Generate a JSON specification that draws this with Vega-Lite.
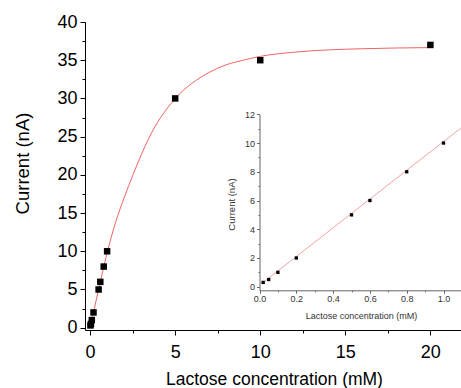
{
  "$schema": "https://vega.github.io/schema/vega-lite/v6.json",
  "width": 376,
  "height": 308,
  "autosize": "none",
  "padding": {"left": 85, "top": 22, "right": 0, "bottom": 58},
  "config": {"view": {"stroke": null}, "font": "Liberation Sans, Arial, sans-serif"},
  "datasets": {
    "main": [
      {"conc": 0.02, "current": 0.3}, {"conc": 0.05, "current": 0.5}, {"conc": 0.1, "current": 1},
      {"conc": 0.2, "current": 2}, {"conc": 0.5, "current": 5}, {"conc": 0.6, "current": 6},
      {"conc": 0.8, "current": 8}, {"conc": 1, "current": 10}, {"conc": 5, "current": 30},
      {"conc": 10, "current": 35}, {"conc": 20, "current": 37}
    ],
    "curve": [
      {"conc": 0, "current": 0}, {"conc": 0.5, "current": 5.0}, {"conc": 1, "current": 9.8},
      {"conc": 1.5, "current": 13.8}, {"conc": 2, "current": 17.0}, {"conc": 2.5, "current": 19.9},
      {"conc": 3, "current": 22.6}, {"conc": 3.5, "current": 25.0}, {"conc": 4, "current": 27.0},
      {"conc": 4.5, "current": 28.6}, {"conc": 5, "current": 30.0}, {"conc": 6, "current": 32.0},
      {"conc": 7, "current": 33.4}, {"conc": 8, "current": 34.4}, {"conc": 9, "current": 35.0},
      {"conc": 10, "current": 35.5}, {"conc": 12, "current": 36.05}, {"conc": 14, "current": 36.35},
      {"conc": 16, "current": 36.5}, {"conc": 18, "current": 36.6}, {"conc": 20, "current": 36.65}
    ],
    "inset": [
      {"c": 0.02, "i": 0.3}, {"c": 0.05, "i": 0.5}, {"c": 0.1, "i": 1}, {"c": 0.2, "i": 2},
      {"c": 0.5, "i": 5}, {"c": 0.6, "i": 6}, {"c": 0.8, "i": 8}, {"c": 1.0, "i": 10}
    ],
    "fit": [
      {"c": 0, "i": 0.1}, {"c": 1.095, "i": 11.05}
    ]
  },
  "layer": [
    {
      "encoding": {
        "x": {
          "field": "conc", "type": "quantitative",
          "scale": {"domain": [-0.3, 21.8], "nice": false, "zero": false},
          "axis": {
            "values": [0, 2.5, 5, 7.5, 10, 12.5, 15, 17.5, 20],
            "labelExpr": "datum.value % 5 === 0 ? format(datum.value, 'd') : ''",
            "labelFontSize": 18, "labelColor": "black", "labelPadding": 8,
            "labelFlush": false, "labelOverlap": false,
            "tickColor": "black", "domainColor": "black", "grid": false,
            "tickSize": {"condition": {"test": "datum.value % 5 !== 0", "value": 3}, "value": 5},
            "title": "Lactose concentration (mM)", "titleFontSize": 17.5, "titleFontWeight": "normal",
            "titleColor": "black", "titleX": 189, "titleY": 54, "titleBaseline": "alphabetic"
          }
        },
        "y": {
          "field": "current", "type": "quantitative",
          "scale": {"domain": [-0.3, 40], "nice": false, "zero": false},
          "axis": {
            "values": [0, 2.5, 5, 7.5, 10, 12.5, 15, 17.5, 20, 22.5, 25, 27.5, 30, 32.5, 35, 37.5, 40],
            "labelExpr": "datum.value % 5 === 0 ? format(datum.value, 'd') : ''",
            "labelFontSize": 18, "labelColor": "black", "labelPadding": 3,
            "labelFlush": false, "labelOverlap": false,
            "tickColor": "black", "domainColor": "black", "grid": false,
            "tickSize": {"condition": {"test": "datum.value % 5 !== 0", "value": 3}, "value": 5},
            "title": "Current (nA)", "titleFontSize": 18.5, "titleFontWeight": "normal",
            "titleColor": "black", "titleX": -63, "titleY": 141, "titleBaseline": "middle", "titleAlign": "center"
          }
        }
      },
      "layer": [
        {
          "data": {"name": "curve"},
          "mark": {"type": "line", "color": "#f06464", "strokeWidth": 1, "interpolate": "monotone"}
        },
        {
          "data": {"name": "main"},
          "mark": {"type": "point", "shape": "square", "filled": true, "color": "black", "opacity": 1, "size": 42}
        }
      ]
    },
    {
      "encoding": {
        "x": {
          "field": "c", "type": "quantitative",
          "scale": {"domain": [0, 1.095], "range": [174.5, 376], "nice": false, "zero": false},
          "axis": {
            "orient": "bottom", "offset": -39.7,
            "values": [0, 0.1, 0.2, 0.3, 0.4, 0.5, 0.6, 0.7, 0.8, 0.9, 1.0],
            "labelExpr": "round(datum.value * 10) % 2 === 0 ? format(datum.value, '.1f') : ''",
            "labelFontSize": 9, "labelColor": "#333", "labelPadding": 1,
            "labelFlush": false, "labelOverlap": false,
            "tickColor": "#666", "domainColor": "#666", "grid": false,
            "tickSize": {"condition": {"test": "round(datum.value * 10) % 2 === 1", "value": 1.5}, "value": 3},
            "title": "Lactose concentration (mM)", "titleFontSize": 9, "titleFontWeight": "normal",
            "titleColor": "#333", "titleX": 276, "titleY": 28, "titleBaseline": "alphabetic"
          }
        },
        "y": {
          "field": "i", "type": "quantitative",
          "scale": {"domain": [-0.25, 12], "range": [268.3, 92.3], "nice": false, "zero": false},
          "axis": {
            "orient": "left", "offset": -174.5,
            "values": [0, 1, 2, 3, 4, 5, 6, 7, 8, 9, 10, 11, 12],
            "labelExpr": "datum.value % 2 === 0 ? format(datum.value, 'd') : ''",
            "labelFontSize": 9, "labelColor": "#333", "labelPadding": 2,
            "labelFlush": false, "labelOverlap": false,
            "tickColor": "#666", "domainColor": "#666", "grid": false,
            "tickSize": {"condition": {"test": "datum.value % 2 === 1", "value": 1.5}, "value": 3},
            "title": "Current (nA)", "titleFontSize": 9.5, "titleFontWeight": "normal",
            "titleColor": "#333", "titleX": -28.5, "titleY": 182, "titleBaseline": "middle", "titleAlign": "center"
          }
        }
      },
      "layer": [
        {
          "data": {"name": "fit"},
          "mark": {"type": "line", "color": "#f4a3a3", "strokeWidth": 1}
        },
        {
          "data": {"name": "inset"},
          "mark": {"type": "point", "shape": "square", "filled": true, "color": "black", "opacity": 1, "size": 11}
        }
      ]
    }
  ],
  "resolve": {"scale": {"x": "independent", "y": "independent"}}
}
